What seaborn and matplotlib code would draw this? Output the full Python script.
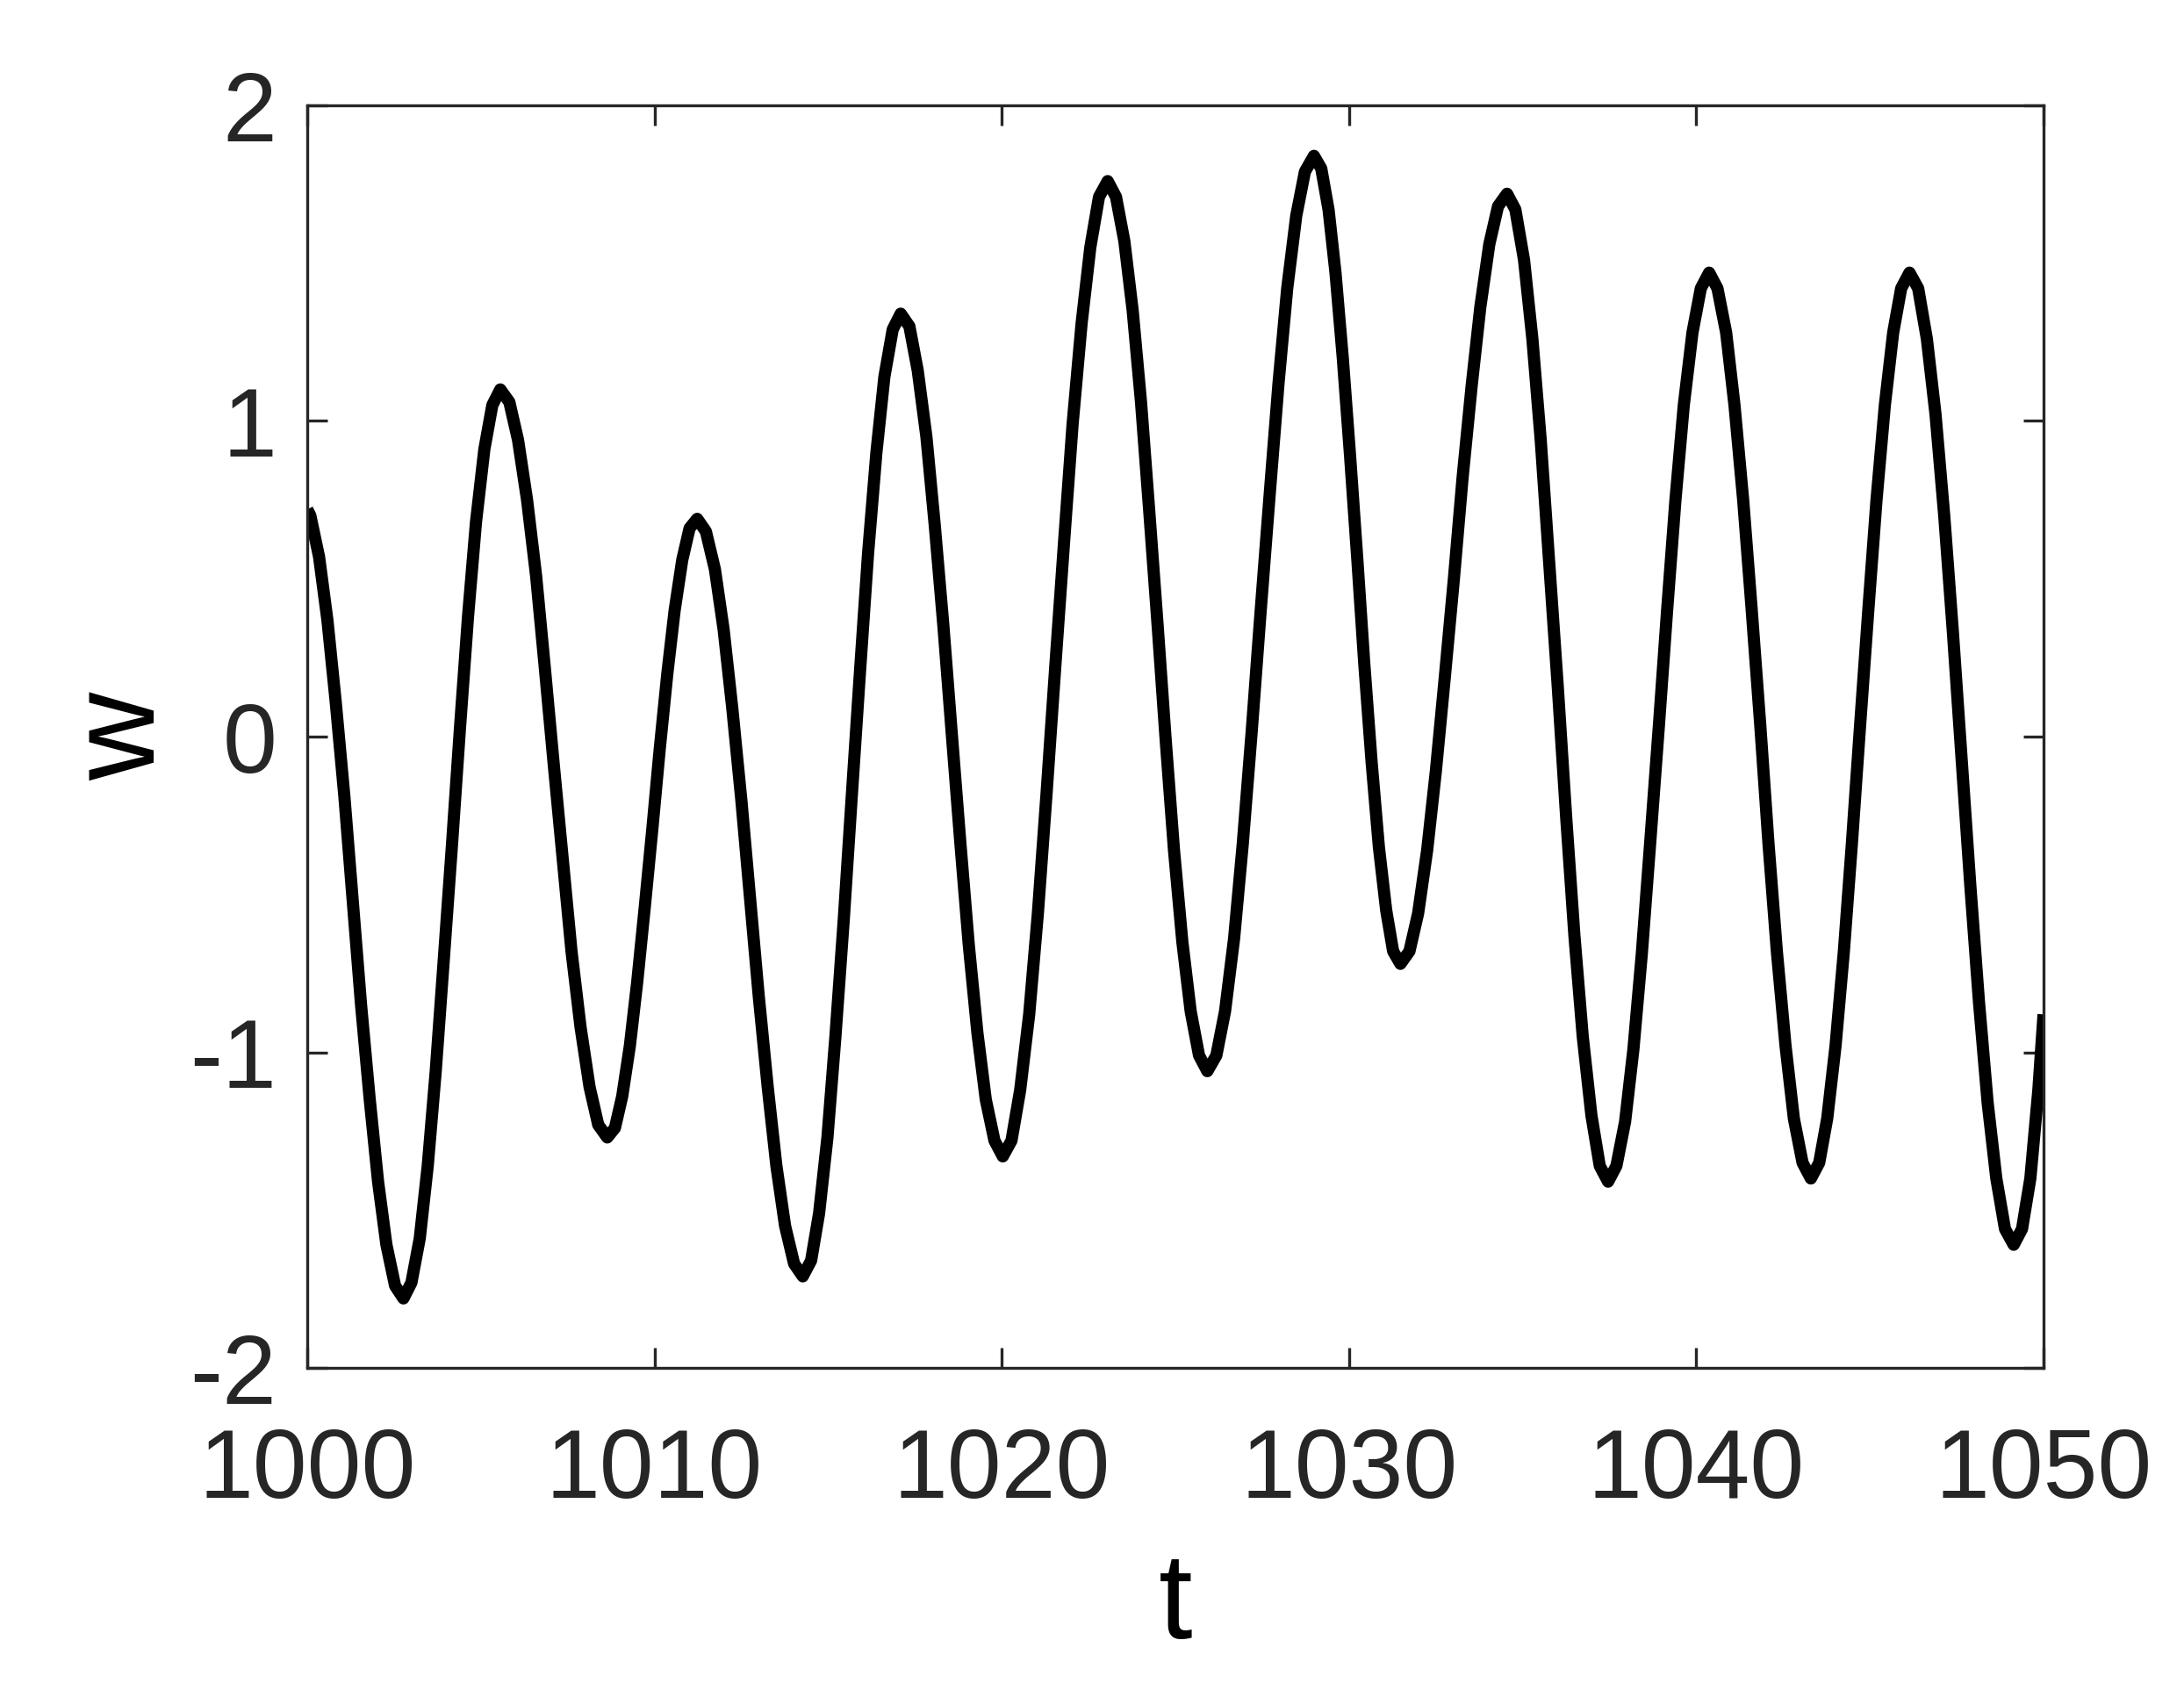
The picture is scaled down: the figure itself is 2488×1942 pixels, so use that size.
import numpy as np
import pandas as pd
import matplotlib
matplotlib.use("Agg")
import matplotlib.pyplot as plt
import seaborn as sns

# ---- data ----
t_values = [
    1000.00, 1000.09, 1000.34, 1000.58, 1000.82, 1001.07, 1001.31, 1001.55, 1001.80, 1002.04, 1002.28, 1002.53,
    1002.77, 1003.00, 1003.24, 1003.47, 1003.70, 1003.93, 1004.17, 1004.40, 1004.63, 1004.86, 1005.10, 1005.33,
    1005.56, 1005.82, 1006.07, 1006.33, 1006.59, 1006.84, 1007.10, 1007.36, 1007.61, 1007.87, 1008.13, 1008.38,
    1008.64, 1008.86, 1009.07, 1009.29, 1009.50, 1009.72, 1009.94, 1010.15, 1010.37, 1010.58, 1010.80, 1011.01,
    1011.23, 1011.48, 1011.74, 1011.99, 1012.24, 1012.50, 1012.75, 1013.00, 1013.26, 1013.51, 1013.76, 1014.02,
    1014.27, 1014.51, 1014.74, 1014.98, 1015.21, 1015.45, 1015.68, 1015.92, 1016.15, 1016.39, 1016.62, 1016.86,
    1017.09, 1017.34, 1017.58, 1017.83, 1018.07, 1018.32, 1018.56, 1018.81, 1019.05, 1019.30, 1019.54, 1019.79,
    1020.03, 1020.28, 1020.53, 1020.79, 1021.04, 1021.29, 1021.54, 1021.79, 1022.04, 1022.30, 1022.55, 1022.80,
    1023.05, 1023.29, 1023.53, 1023.77, 1024.01, 1024.25, 1024.49, 1024.72, 1024.96, 1025.20, 1025.44, 1025.68,
    1025.92, 1026.18, 1026.43, 1026.69, 1026.94, 1027.20, 1027.45, 1027.71, 1027.97, 1028.22, 1028.48, 1028.73,
    1028.99, 1029.20, 1029.41, 1029.61, 1029.82, 1030.03, 1030.24, 1030.44, 1030.65, 1030.86, 1031.07, 1031.27,
    1031.48, 1031.74, 1031.99, 1032.25, 1032.50, 1032.76, 1033.02, 1033.27, 1033.53, 1033.78, 1034.04, 1034.29,
    1034.55, 1034.79, 1035.04, 1035.28, 1035.52, 1035.76, 1036.01, 1036.25, 1036.49, 1036.73, 1036.98, 1037.22,
    1037.46, 1037.70, 1037.95, 1038.19, 1038.43, 1038.67, 1038.92, 1039.16, 1039.40, 1039.64, 1039.89, 1040.13,
    1040.37, 1040.61, 1040.86, 1041.10, 1041.35, 1041.59, 1041.84, 1042.08, 1042.32, 1042.57, 1042.81, 1043.06,
    1043.30, 1043.54, 1043.77, 1044.01, 1044.25, 1044.48, 1044.72, 1044.96, 1045.19, 1045.43, 1045.67, 1045.90,
    1046.14, 1046.39, 1046.64, 1046.89, 1047.14, 1047.39, 1047.64, 1047.89, 1048.14, 1048.39, 1048.64, 1048.89,
    1049.14, 1049.38, 1049.62, 1049.85, 1050.00,
]
w_values = [
    0.72, 0.70, 0.57, 0.37, 0.11, -0.19, -0.52, -0.85, -1.15, -1.41, -1.61, -1.74,
    -1.78, -1.73, -1.59, -1.36, -1.06, -0.71, -0.34, 0.03, 0.38, 0.68, 0.91, 1.05,
    1.10, 1.06, 0.94, 0.75, 0.51, 0.22, -0.09, -0.39, -0.68, -0.92, -1.11, -1.23,
    -1.27, -1.24, -1.14, -0.98, -0.78, -0.54, -0.29, -0.04, 0.20, 0.40, 0.56, 0.66,
    0.69, 0.65, 0.53, 0.34, 0.09, -0.20, -0.51, -0.82, -1.11, -1.36, -1.55, -1.67,
    -1.71, -1.66, -1.51, -1.27, -0.95, -0.58, -0.19, 0.21, 0.58, 0.90, 1.14, 1.29,
    1.34, 1.30, 1.16, 0.95, 0.67, 0.35, 0.01, -0.34, -0.66, -0.94, -1.15, -1.28,
    -1.33, -1.28, -1.12, -0.88, -0.56, -0.18, 0.22, 0.61, 0.99, 1.31, 1.55, 1.71,
    1.76, 1.71, 1.57, 1.35, 1.06, 0.71, 0.35, -0.01, -0.36, -0.65, -0.87, -1.01,
    -1.06, -1.01, -0.87, -0.64, -0.34, 0.02, 0.39, 0.76, 1.12, 1.42, 1.65, 1.79,
    1.84, 1.80, 1.67, 1.47, 1.20, 0.89, 0.56, 0.23, -0.08, -0.35, -0.55, -0.68,
    -0.72, -0.68, -0.56, -0.36, -0.11, 0.19, 0.50, 0.82, 1.11, 1.36, 1.56, 1.68,
    1.72, 1.67, 1.51, 1.26, 0.94, 0.56, 0.16, -0.25, -0.63, -0.95, -1.20, -1.36,
    -1.41, -1.36, -1.22, -0.99, -0.69, -0.34, 0.03, 0.40, 0.75, 1.05, 1.28, 1.42,
    1.47, 1.42, 1.28, 1.05, 0.75, 0.41, 0.04, -0.34, -0.68, -0.98, -1.21, -1.35,
    -1.40, -1.35, -1.21, -0.98, -0.68, -0.34, 0.04, 0.41, 0.75, 1.05, 1.28, 1.42,
    1.47, 1.42, 1.26, 1.02, 0.70, 0.33, -0.07, -0.47, -0.84, -1.16, -1.40, -1.56,
    -1.61, -1.56, -1.40, -1.12, -0.88,
]
x_ticks = [1000, 1010, 1020, 1030, 1040, 1050]
y_ticks = [-2, -1, 0, 1, 2]
x_label = "t"
y_label = "w"

sns.set_style("white")
plt.rcParams['font.family'] = ['Liberation Sans', 'DejaVu Sans']

W, H = 2488, 1942
fig = plt.figure(figsize=(W / 100, H / 100), dpi=100)
left, right, top, bottom = 350, 2328, 120, 1558
ax = fig.add_axes([left / W, 1 - bottom / H, (right - left) / W, (bottom - top) / H])

df = pd.DataFrame({"t": t_values, "w": w_values})
sns.lineplot(data=df, x="t", y="w", ax=ax, color="black", linewidth=10,
             estimator=None, sort=False)
for ln in ax.get_lines():
    ln.set_solid_joinstyle('round')
    ln.set_solid_capstyle('butt')

ax.set_xlim(1000, 1050)
ax.set_ylim(-2, 2)
ax.set_xticks(x_ticks)
ax.set_yticks(y_ticks)
ax.set_xticklabels([str(v) for v in x_ticks])
ax.set_yticklabels([str(v) for v in y_ticks])

axis_color = '#262626'
ax.tick_params(direction='in', length=16.5, width=2.4, color=axis_color,
               labelsize=80, labelcolor=axis_color, top=True, right=True,
               bottom=True, left=True)
ax.tick_params(axis='x', pad=48)
ax.tick_params(axis='y', pad=25)
for s in ax.spines.values():
    s.set_visible(True)
    s.set_color(axis_color)
    s.set_linewidth(2.4)

ax.set_xlabel(x_label, fontsize=100, color='black', labelpad=26)
ax.set_ylabel(y_label, fontsize=100, color='black', labelpad=8)

fig.savefig("out.png", dpi=100, facecolor='white')
